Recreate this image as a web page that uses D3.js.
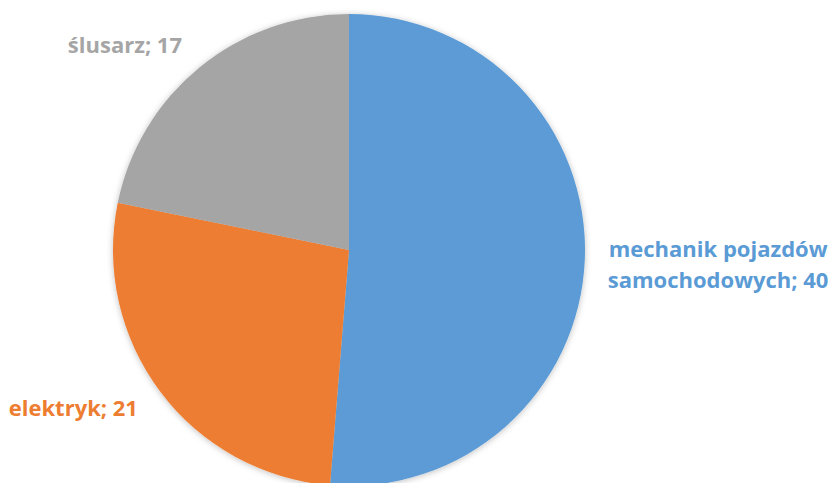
<!DOCTYPE html>
<html>
<head>
<meta charset="utf-8">
<script src="https://cdn.jsdelivr.net/npm/d3@7"></script>
<style>
  body { margin: 0; background: #fff; }
</style>
</head>
<body>
<div id="main"></div>
<script>
const width = 840, height = 483;

// chart data
const categories = ["mechanik pojazdów samochodowych", "elektryk", "ślusarz"];
const labelLines = [["mechanik pojazdów", "samochodowych; 40"], ["elektryk; 21"], ["ślusarz; 17"]];
const values = [40, 21, 17];
const colors = ["#5B9BD5", "#ED7D31", "#A5A5A5"];

const cx = 349, cy = 250, radius = 236;

let svg = d3.select("#main").append("svg")
    .attr("width", width)
    .attr("height", height)
    .style("font-family", "'Open Sans', sans-serif");

let defs = svg.append("defs");
let f = defs.append("filter").attr("id", "shadow")
    .attr("x", "-10%").attr("y", "-10%").attr("width", "120%").attr("height", "120%");
f.append("feDropShadow")
    .attr("dx", 0).attr("dy", 1).attr("stdDeviation", 3)
    .attr("flood-color", "#000").attr("flood-opacity", 0.25);

const pie = d3.pie().sort(null).value(d => d);
const arcs = pie(values);

const arc = d3.arc().innerRadius(0).outerRadius(radius);
const labelArc = d3.arc().innerRadius(radius + 28).outerRadius(radius + 28);

const g = svg.append("g").attr("transform", `translate(${cx},${cy})`);

g.append("g")
    .attr("filter", "url(#shadow)")
    .selectAll("path")
    .data(arcs)
    .join("path")
    .attr("d", arc)
    .attr("fill", (d, i) => colors[i]);

const lineH = 31;
const label = g.append("g")
    .selectAll("text")
    .data(arcs)
    .join("text")
    .attr("font-size", 22)
    .attr("font-weight", "bold")
    .attr("fill", (d, i) => colors[i])
    .attr("text-anchor", d => {
        const mid = (d.startAngle + d.endAngle) / 2;
        return mid < Math.PI ? "start" : "end";
    })
    .attr("transform", d => {
        const [x, y] = labelArc.centroid(d);
        return `translate(${x},${y})`;
    });

label.each(function (d, i) {
    const lines = labelLines[i];
    const t = d3.select(this);
    lines.forEach((s, j) => {
        t.append("tspan")
            .attr("x", 0)
            .attr("y", (j - (lines.length - 1) / 2) * lineH)
            .attr("dy", "0.35em")
            .text(s);
    });
});

// multi-line label: centre the lines within the block
label.filter((d, i) => labelLines[i].length > 1)
    .attr("text-anchor", "middle")
    .attr("transform", function (d) {
        const [x, y] = labelArc.centroid(d);
        const w = this.getBBox().width;
        return `translate(${x - 5 + w / 2},${y + 4})`;
    });
</script>
</body>
</html>
